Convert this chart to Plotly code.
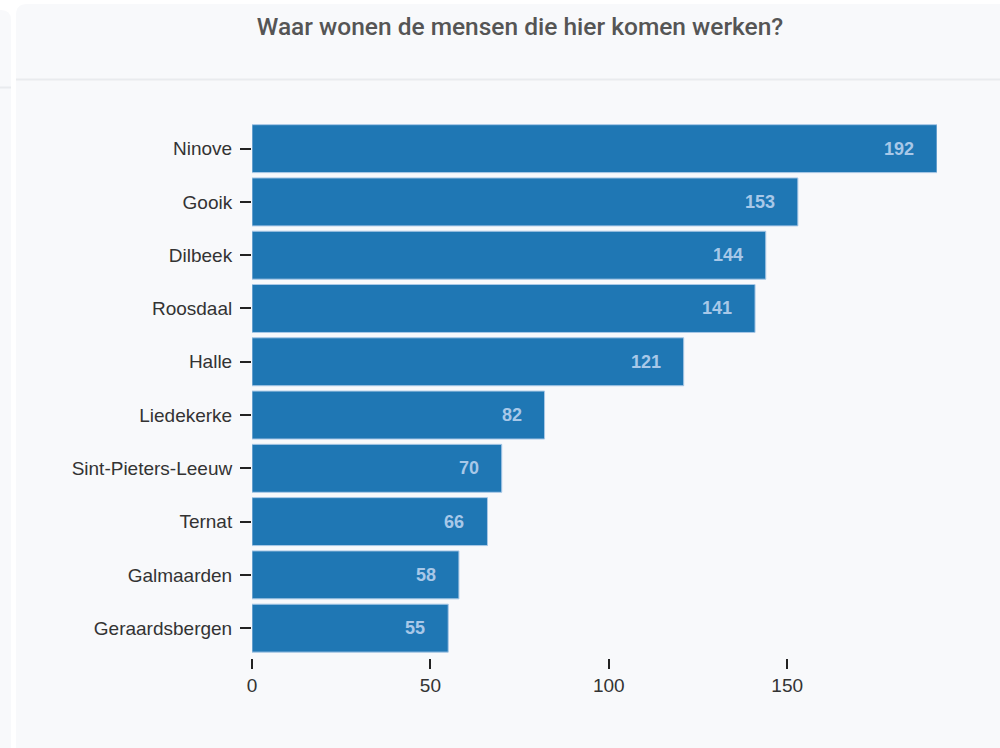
import plotly.graph_objects as go

# Woonplaatsen van de werknemers, van groot naar klein
gemeenten = ["Ninove", "Gooik", "Dilbeek", "Roosdaal", "Halle", "Liedekerke",
             "Sint-Pieters-Leeuw", "Ternat", "Galmaarden", "Geraardsbergen"]
aantallen = [192, 153, 144, 141, 121, 82, 70, 66, 58, 55]
x_ticks = [0, 50, 100, 150]
titel = "Waar wonen de mensen die hier komen werken?"

W, H = 1000, 748
L, R, T, B = 252, 63, 122, 90
PW, PH = W - L - R, H - T - B


def px(x):
    return (x - L) / PW


def py(y):
    return (H - B - y) / PH


def rounded_card(x0, y0, x1, y1, r):
    # rounded top corners, straight bottom
    return (f"M {px(x0)},{py(y1)} L {px(x0)},{py(y0 + r)} "
            f"Q {px(x0)},{py(y0)} {px(x0 + r)},{py(y0)} "
            f"L {px(x1 - r)},{py(y0)} "
            f"Q {px(x1)},{py(y0)} {px(x1)},{py(y0 + r)} "
            f"L {px(x1)},{py(y1)} Z")


card_bg = "#f8f9fb"
line_col = "#e9ebee"

shapes = [
    dict(type="path", xref="paper", yref="paper", layer="below",
         path=rounded_card(16, 4, 1030, 800, 11), fillcolor=card_bg, line_width=0),
    dict(type="path", xref="paper", yref="paper", layer="below",
         path=rounded_card(-40, 10, 11, 800, 10), fillcolor=card_bg, line_width=0),
    dict(type="line", xref="paper", yref="paper", layer="below",
         x0=px(16), x1=px(1000), y0=py(79.5), y1=py(79.5),
         line=dict(color=line_col, width=2)),
    dict(type="line", xref="paper", yref="paper", layer="below",
         x0=px(0), x1=px(11), y0=py(87.5), y1=py(87.5),
         line=dict(color=line_col, width=2)),
]

fig = go.Figure(go.Bar(
    x=aantallen, y=gemeenten, orientation="h",
    marker=dict(color="#1f77b4", line=dict(color="#a9c8e6", width=1)),
    hoverinfo="skip",
))

# waarde-labels binnen de balk, rechts uitgelijnd
annotations = [
    dict(x=v, y=g, xref="x", yref="y", text=f"<b>{v}</b>", showarrow=False,
         xanchor="right", xshift=-21,
         font=dict(family="Liberation Sans, Arial", size=18, color="#a8c8e8"))
    for g, v in zip(gemeenten, aantallen)
]

fig.update_layout(
    width=W, height=H,
    margin=dict(l=L, r=R, t=T, b=B),
    paper_bgcolor="#ffffff",
    plot_bgcolor="rgba(0,0,0,0)",
    bargap=0.1,
    showlegend=False,
    shapes=shapes,
    annotations=annotations,
    title=dict(text=titel, x=520 / W, xanchor="center", xref="container",
               y=1 - 26 / H, yanchor="middle", yref="container",
               font=dict(family="Roboto", size=24.5, color="#555555", weight=500)),
    xaxis=dict(range=[0, 192], tickvals=x_ticks, ticks="outside", ticklen=10,
               tickwidth=1.5, tickcolor="#222222", showgrid=False, zeroline=False,
               showline=False,
               tickfont=dict(family="Liberation Sans, Arial", size=19, color="#333333")),
    yaxis=dict(range=[9.56, -0.5], ticks="outside", ticklen=11, tickwidth=2,
               tickcolor="#222222", showgrid=False, zeroline=False, showline=False,
               ticklabelstandoff=4,
               tickfont=dict(family="Liberation Sans, Arial", size=19, color="#333333")),
)

fig.write_html("out.html")
